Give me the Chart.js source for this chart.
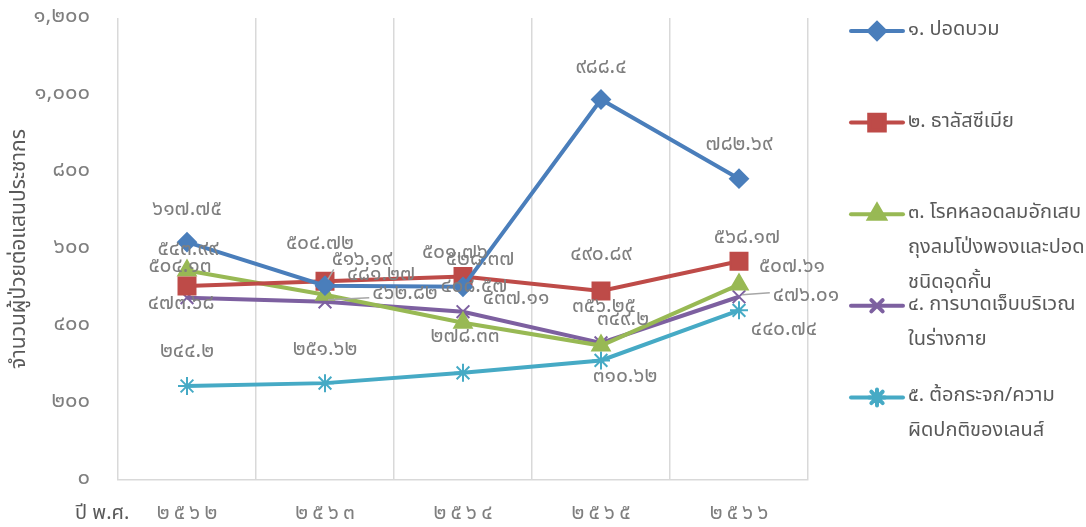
<!DOCTYPE html>
<html>
<head>
<meta charset="utf-8">
<script src="https://cdn.jsdelivr.net/npm/chart.js@4.4.1/dist/chart.umd.min.js"></script>
<style>
  html, body { margin: 0; padding: 0; background: #fff; }
  #wrap { width: 1086px; height: 527px; }
</style>
</head>
<body>
<div id="wrap"><canvas id="chart" width="1086" height="527"></canvas></div>
<script>
// data
const years = ['2562', '2563', '2564', '2565', '2566'];
const pneumonia = [617.75, 504.72, 501.76, 988.4, 782.69];
const thalassemia = [504.13, 516.19, 528.37, 490.89, 568.17];
const copd = [543.99, 481.27, 408.57, 349.2, 507.61];
const injury = [473.68, 462.82, 437.11, 356.25, 476.01];
const cataract = [244.2, 251.62, 278.33, 310.62, 440.74];
const yMax = 1200;
const yStep = 200;

const seriesNames = [
  '๑. ปอดบวม',
  '๒. ธาลัสซีเมีย',
  '๓. โรคหลอดลมอักเสบถุงลมโป่งพองและปอดชนิดอุดกั้น',
  '๔. การบาดเจ็บบริเวณในร่างกาย',
  '๕. ต้อกระจก/ความผิดปกติของเลนส์'
];
// how the legend text wraps in the reference
const legendLines = [
  ['๑. ปอดบวม'],
  ['๒. ธาลัสซีเมีย'],
  ['๓. โรคหลอดลมอักเสบ', 'ถุงลมโป่งพองและปอด', 'ชนิดอุดกั้น'],
  ['๔. การบาดเจ็บบริเวณ', 'ในร่างกาย'],
  ['๕. ต้อกระจก/ความ', 'ผิดปกติของเลนส์']
];

const colors = ['#4a7ebb', '#be4b48', '#98b954', '#7d60a0', '#46aac5'];
const pointStyles = ['rectRot', 'rect', 'triangle', 'crossRot', 'star'];
const pointSizes = [9, 12, 10, 9, 9];

// label offsets (dx, dy) from each point, as placed in the reference
const labelOffsets = [
  [[0, -31], [-5, -41], [-8, -33], [0, -31], [0, -33]],
  [[-7, -18], [37, -21], [17, -16], [0, -35], [8, -23]],
  [[1, -20], [56, -19], [11, -35], [22, -25], [53, -17]],
  [[-6, 7], [80, -7], [53, -12], [3, -35], [67, 0]],
  [[0, -33], [0, -32], [2, -35], [24, 17], [45, 20]]
];
const leaders = [[1, 1], [3, 1], [3, 4]];

const thaiDigits = '๐๑๒๓๔๕๖๗๘๙';
function toThai(s) {
  return String(s).replace(/[0-9]/g, d => thaiDigits[+d]);
}

const FONT = "'Noto Sans Thai', Tahoma, 'Leelawadee UI', 'Noto Sans', sans-serif";
const GREY = '#7f7f7f';

const dataLabels = {
  id: 'dataLabels',
  afterDatasetsDraw(chart) {
    const ctx = chart.ctx;
    ctx.save();
    ctx.font = '21px ' + FONT;
    ctx.textAlign = 'center';
    ctx.textBaseline = 'middle';
    chart.data.datasets.forEach((ds, di) => {
      const meta = chart.getDatasetMeta(di);
      meta.data.forEach((pt, i) => {
        const off = labelOffsets[di][i];
        const lx = pt.x + off[0];
        const ly = pt.y + off[1];
        const txt = toThai(ds.data[i]);
        if (leaders.some(l => l[0] === di && l[1] === i)) {
          const w = ctx.measureText(txt).width;
          ctx.strokeStyle = '#a6a6a6';
          ctx.lineWidth = 1.5;
          ctx.beginPath();
          ctx.moveTo(pt.x + 3, pt.y - 2);
          if (Math.abs(off[1]) > 12) ctx.lineTo(lx - w / 2 + 2, ly + 9);
          else ctx.lineTo(lx - w / 2 - 3, pt.y - 4);
          ctx.stroke();
        }
        ctx.fillStyle = GREY;
        ctx.fillText(txt, lx, ly);
      });
    });
    ctx.restore();
  }
};

const sideLegend = {
  id: 'sideLegend',
  afterDraw(chart) {
    const ctx = chart.ctx;
    ctx.save();
    ctx.font = '20px ' + FONT;
    ctx.textBaseline = 'middle';
    ctx.textAlign = 'left';
    legendLines.forEach((lines, i) => {
      const y = 31 + i * 91.6;
      ctx.strokeStyle = colors[i];
      ctx.lineWidth = 4;
      ctx.lineCap = 'round';
      ctx.beginPath();
      ctx.moveTo(851, y);
      ctx.lineTo(903, y);
      ctx.stroke();
      ctx.fillStyle = colors[i];
      Chart.helpers.drawPoint(ctx, {
        pointStyle: pointStyles[i], radius: pointSizes[i] - 1, rotation: 0, borderWidth: 2
      }, 877, y);
      ctx.fillStyle = '#595959';
      lines.forEach((t, j) => ctx.fillText(t, 908, y + j * 35));
    });
    ctx.restore();
  }
};

const xCaption = {
  id: 'xCaption',
  afterDraw(chart) {
    const ctx = chart.ctx;
    ctx.save();
    ctx.font = '20px ' + FONT;
    ctx.fillStyle = '#595959';
    ctx.textBaseline = 'middle';
    ctx.textAlign = 'left';
    ctx.fillText('ปี พ.ศ.', 75, 515);
    ctx.restore();
  }
};

const allSeries = [pneumonia, thalassemia, copd, injury, cataract];

new Chart(document.getElementById('chart'), {
  type: 'line',
  data: {
    labels: years,
    datasets: allSeries.map((values, i) => ({
      label: seriesNames[i],
      data: values,
      borderColor: colors[i],
      backgroundColor: colors[i],
      borderWidth: 4,
      pointStyle: pointStyles[i],
      pointRadius: pointSizes[i],
      pointBorderWidth: 2,
      pointBorderColor: colors[i],
      pointBackgroundColor: colors[i],
      tension: 0
    }))
  },
  options: {
    responsive: false,
    animation: false,
    layout: { padding: { top: 18, right: 278, left: 0, bottom: 0 } },
    plugins: {
      legend: { display: false },
      tooltip: { enabled: false }
    },
    scales: {
      x: {
        offset: true,
        grid: { offset: true, color: '#d9d9d9', lineWidth: 1.5, drawTicks: false },
        border: { color: '#d9d9d9', width: 1.5 },
        ticks: {
          color: GREY,
          font: { family: FONT, size: 21 },
          padding: 22,
          callback: function (value) {
            return toThai(this.getLabelForValue(value)).split('').join('\u2009');
          }
        },
        afterFit(scale) { scale.height = 47; scale.paddingLeft = 0; scale.paddingRight = 0; }
      },
      y: {
        min: 0,
        max: yMax,
        grid: { display: false },
        border: { display: false },
        ticks: {
          stepSize: yStep,
          color: GREY,
          font: { family: FONT, size: 22 },
          padding: 20,
          callback: value => toThai(value.toLocaleString('en-US'))
        },
        title: {
          display: true,
          text: 'จำนวนผู้ป่วยต่อแสนประชากร',
          color: '#595959',
          font: { family: FONT, size: 21 },
          padding: { top: 8, bottom: 0 }
        },
        afterFit(scale) {
          scale.width = 118;
          scale.paddingTop = 0;
          scale.paddingBottom = 0;
        }
      }
    }
  },
  plugins: [dataLabels, sideLegend, xCaption]
});
</script>
</body>
</html>
